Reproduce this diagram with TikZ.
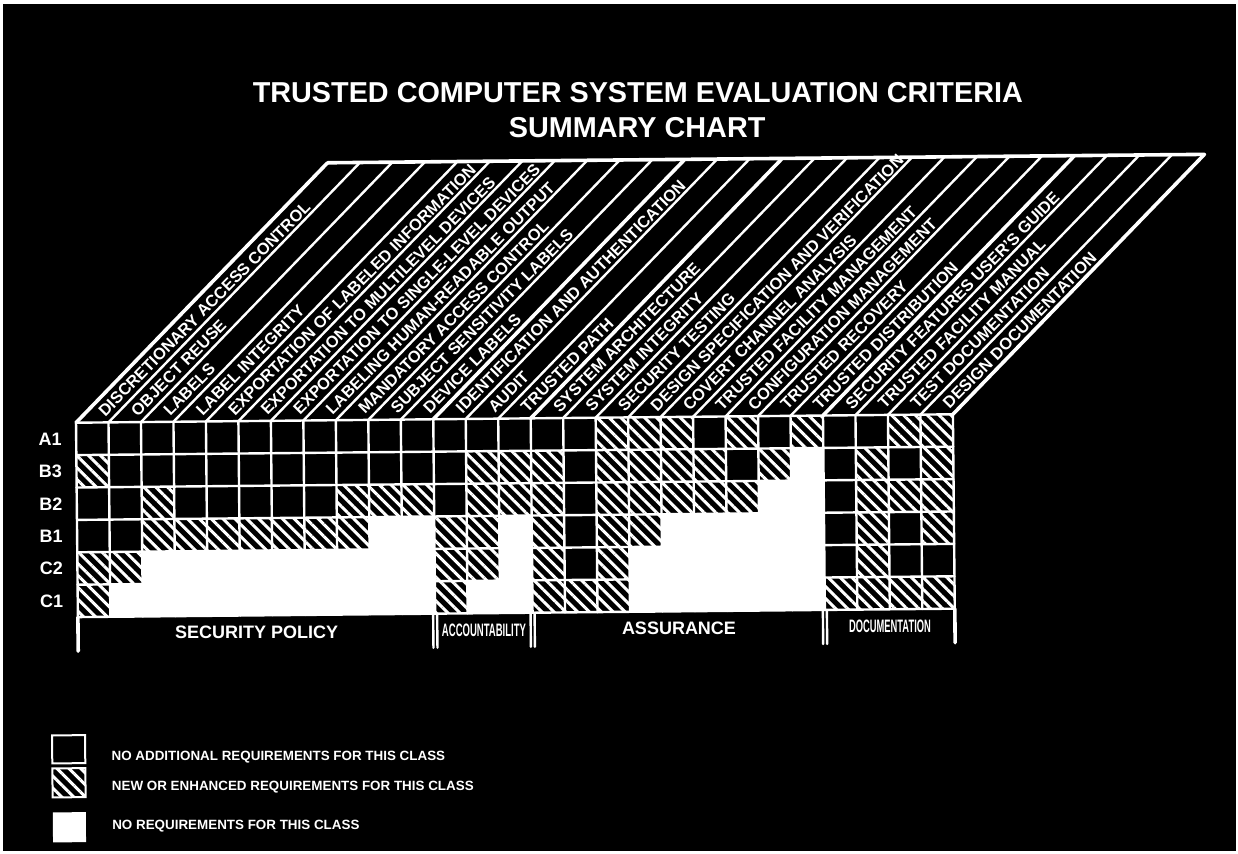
\documentclass[tikz,border=0pt]{standalone}
\usepackage{fontspec}
\setmainfont{Liberation Sans}
\usetikzlibrary{patterns.meta}

\tikzset{
  gridline/.style={white, line width=1.2pt, line cap=round},
  secline/.style={white, line width=1.8pt, line cap=round},
  colhead/.style={white, rotate=45.4, anchor=base west, inner sep=0pt, font=\fontsize{8.2}{10}\selectfont\bfseries},
  seclabel/.style={white, font=\fontsize{9}{10}\selectfont\bfseries},
  keytext/.style={white, anchor=west, inner sep=0pt, font=\fontsize{6.7}{8}\selectfont\bfseries},
  cellK/.style={},
  cellH/.style={pattern={Lines[angle=-45,distance=4.2pt,line width=1.5pt]}, pattern color=white},
  cellW/.style={fill=white},
}

\begin{document}
\begin{tikzpicture}[x=0.5pt,y=-0.5pt]
\fill[white] (0,0) rectangle (1238,854);
\useasboundingbox (0,0) rectangle (1238,854);
\fill[black] (3,4) rectangle (1236,851);
\begin{scope}[rotate around={0.55:(515,420)}]
  % title
  \node[white, font=\fontsize{14.4}{16}\selectfont\bfseries] (title) at (641,94) {TRUSTED COMPUTER SYSTEM EVALUATION CRITERIA};
  \node[white, font=\fontsize{14.4}{16}\selectfont\bfseries] (subtitle) at (640,129) {SUMMARY CHART};

  % cells: K = no additional, H = new or enhanced, W = none
  \foreach \rowlist [count=\r from 0] in {
    {K,K,K,K,K,K,K,K,K,K,K,K,K,K,K,K,H,H,H,K,H,K,H,K,K,H,H},
    {H,K,K,K,K,K,K,K,K,K,K,K,H,H,H,K,H,H,H,H,K,H,W,K,H,K,H},
    {K,K,H,K,K,K,K,K,H,H,H,K,H,H,H,K,H,H,H,H,H,W,W,K,H,H,H},
    {K,K,H,H,H,H,H,H,H,W,W,H,H,W,H,K,H,H,W,W,W,W,W,K,H,K,H},
    {H,H,W,W,W,W,W,W,W,W,W,H,H,W,H,K,H,W,W,W,W,W,W,K,H,K,K},
    {H,W,W,W,W,W,W,W,W,W,W,H,W,W,H,H,H,W,W,W,W,W,W,H,H,H,H}}{
    \foreach \v [count=\c from 0] in \rowlist
      \path[cell\v] ({76+\c*32.48},{418.5+\r*32.4}) rectangle ++(32.48,32.4);
  }

  % grid
  \foreach \r in {0,...,6}
    \draw[gridline] (76,{418.5+\r*32.4}) -- (953,{418.5+\r*32.4});
  \foreach \k in {0,...,27}
    \draw[gridline] ({76+\k*32.48},418.5) -- ++(0,194.4);

  % slanted header
  \foreach \k in {1,...,10,12,13,15,16,...,22,24,25,26}
    \draw[gridline] ({76+\k*32.48},418.5) -- ++(254,-257.5);
  \foreach \k in {0,11,14,23,27}
    \draw[secline] ({76+\k*32.48},418.5) -- ++(254,-257.5);
  \draw[secline] (330,161) -- (1207,161);

  \foreach \txt [count=\k] in {DISCRETIONARY ACCESS CONTROL, OBJECT REUSE, LABELS,
      LABEL INTEGRITY, EXPORTATION OF LABELED INFORMATION,
      EXPORTATION TO MULTILEVEL DEVICES, EXPORTATION TO SINGLE-LEVEL DEVICES,
      LABELING HUMAN-READABLE OUTPUT, MANDATORY ACCESS CONTROL,
      SUBJECT SENSITIVITY LABELS, DEVICE LABELS,
      IDENTIFICATION AND AUTHENTICATION, AUDIT, TRUSTED PATH,
      SYSTEM ARCHITECTURE, SYSTEM INTEGRITY, SECURITY TESTING,
      DESIGN SPECIFICATION AND VERIFICATION, COVERT CHANNEL ANALYSIS,
      TRUSTED FACILITY MANAGEMENT, CONFIGURATION MANAGEMENT,
      TRUSTED RECOVERY, TRUSTED DISTRIBUTION,
      SECURITY FEATURES USER'S GUIDE, TRUSTED FACILITY MANUAL,
      TEST DOCUMENTATION, DESIGN DOCUMENTATION}
    \node[colhead] (h\k) at ({76+\k*32.48-3.4},413.8) {\txt};

  % classes
  \foreach \lab [count=\r from 0] in {A1,B3,B2,B1,C2,C1}
    \node[white, font=\fontsize{9}{10}\selectfont\bfseries] (row\lab) at (50,{434.7+\r*32.4}) {\lab};

  % divisions
  \foreach \bx in {76,953}
    \draw[secline] (\bx,613) -- (\bx,647);
  \foreach \k in {11,14,23} {
    \draw[gridline] ({76+\k*32.48-2},613) -- ++(0,34);
    \draw[gridline] ({76+\k*32.48+2},613) -- ++(0,34);
  }
  \node[seclabel] (secpol) at (254.6,630) {SECURITY POLICY};
  \node[seclabel] (secacc) at (482,630) {\scalebox{0.53}[1]{ACCOUNTABILITY}};
  \node[seclabel] (secass) at (677,630) {ASSURANCE};
  \node[seclabel] (secdoc) at (888,630) {\scalebox{0.52}[1]{DOCUMENTATION}};

  % key
  \draw[white, line width=1pt] (49,731) rectangle (82,759);
  \path[cellH, draw=white, line width=1pt] (49,764) rectangle (82,793);
  \fill[white] (49,808) rectangle (82,838);
  \node[keytext] (keyK) at (108,753) {NO ADDITIONAL REQUIREMENTS FOR THIS CLASS};
  \node[keytext] (keyH) at (108,783) {NEW OR ENHANCED REQUIREMENTS FOR THIS CLASS};
  \node[keytext] (keyW) at (108,822) {NO REQUIREMENTS FOR THIS CLASS};
\end{scope}
\end{tikzpicture}
\end{document}
